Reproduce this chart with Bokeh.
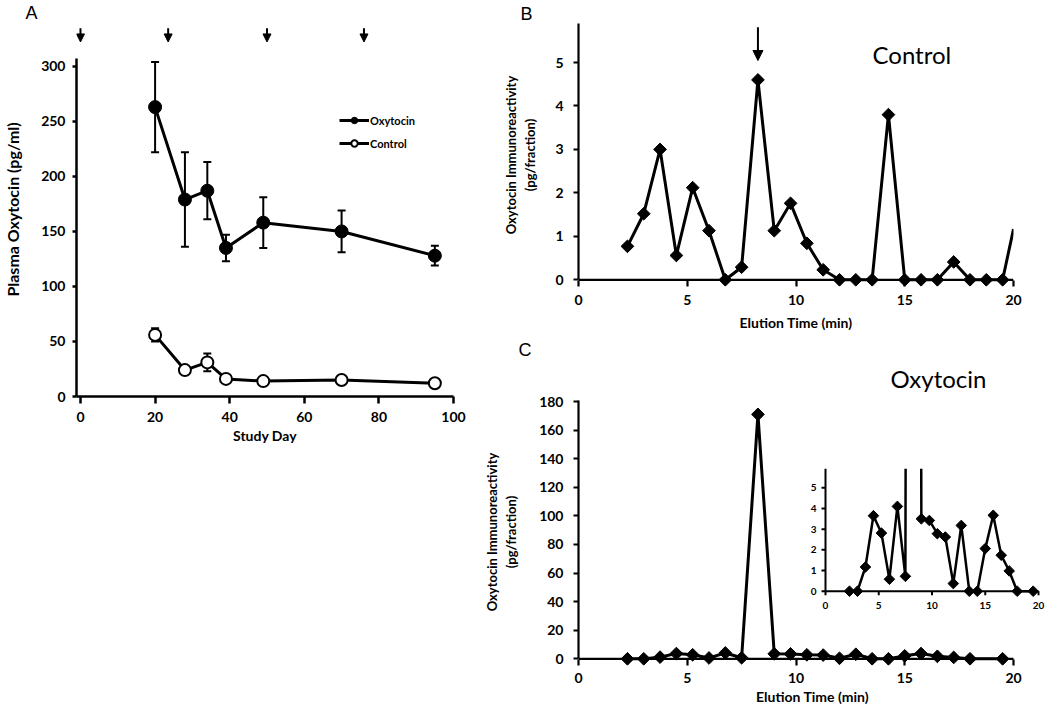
import math
from bokeh.plotting import figure
from bokeh.layouts import row, column
from bokeh.models import (ColumnDataSource, FixedTicker, Range1d, Legend, LegendItem,
                          Label, Title, Whisker, TeeHead, Arrow, NormalHead)
from bokeh.core.properties import value
from bokeh.embed import file_html
from bokeh.resources import INLINE

# ---------------- data ----------------
# Panel A: plasma oxytocin over the study
study_day = [20, 28, 34, 39, 49, 70, 95]
oxytocin_mean = [263, 179, 187, 135, 158, 150, 128]
oxytocin_sem = [41, 43, 26, 12, 23, 19, 9]
control_mean = [56, 24, 31, 16, 14, 15, 12]
control_sem = [6, 3, 8, 2, 2, 2, 2]
treatment_day = [0, 23.5, 50, 76]
a_x_ticks = [0, 20, 40, 60, 80, 100]
a_y_ticks = [0, 50, 100, 150, 200, 250, 300]

# Panel B: HPLC fractions, control
elution_b = [2.25, 3.0, 3.75, 4.5, 5.25, 6.0, 6.75, 7.5, 8.25, 9.0, 9.75, 10.5, 11.25,
             12.0, 12.75, 13.5, 14.25, 15.0, 15.75, 16.5, 17.25, 18.0, 18.75, 19.5, 20.25]
control_ir = [0.77, 1.52, 3.0, 0.56, 2.12, 1.13, 0.0, 0.29, 4.6, 1.13, 1.76, 0.84, 0.23,
              0.0, 0.0, 0.0, 3.8, 0.0, 0.0, 0.0, 0.41, 0.0, 0.0, 0.0, 1.75]
oxytocin_standard_time = [8.25]
b_x_ticks = [0, 5, 10, 15, 20]
b_y_ticks = [0, 1, 2, 3, 4, 5]

# Panel C: HPLC fractions, oxytocin
elution_c = [2.25, 3.0, 3.75, 4.5, 5.25, 6.0, 6.75, 7.5, 8.25, 9.0, 9.75, 10.5, 11.25,
             12.0, 12.75, 13.5, 14.25, 15.0, 15.75, 16.5, 17.25, 18.0, 19.5]
oxytocin_ir = [0.0, 0.0, 1.17, 3.65, 2.81, 0.58, 4.1, 0.72, 171, 3.5, 3.42, 2.78, 2.62,
               0.37, 3.18, 0.0, 0.0, 2.06, 3.67, 1.74, 0.98, 0.0, 0.0]
c_x_ticks = [0, 5, 10, 15, 20]
c_y_ticks = [0, 20, 40, 60, 80, 100, 120, 140, 160, 180]
inset_x_ticks = [0, 5, 10, 15, 20]
inset_y_ticks = [0, 1, 2, 3, 4, 5]

# ---------------- layout (image pixel calibration) ----------------
FONT = "Lato"
LETTER_FONT = "Liberation Sans"

A_ORIGIN, A_SIZE, A_FRAME = (0, 0), (470, 448), (75, 453, 21, 396)
A_XCAL, A_YCAL = (79, 0, 453, 100), (396, 0, 65, 300)
B_ORIGIN, B_SIZE, B_FRAME = (470, 0), (576, 340), (578, 1013, 23, 286)
B_XCAL, B_YCAL = (578, 0, 1013, 20), (279.3, 0, 62, 5)
C_ORIGIN, C_SIZE, C_FRAME = (470, 340), (576, 368), (578, 1046, 398, 665)
C_XCAL, C_YCAL = (578, 0, 1013, 20), (658.3, 0, 401, 180)
IN_XCAL, IN_YCAL = (825, 0, 1038, 20), (590.7, 0, 487.3, 5)
IN_TOP_PX = 468.3


def lin(px, cal):
    p0, v0, p1, v1 = cal
    return v0 + (px - p0) * (v1 - v0) / (p1 - p0)


def make_fig(origin, size, frame, xcal, ycal):
    ox, oy = origin
    w, h = size
    L, R, T, B = frame
    p = figure(width=w, height=h,
               x_range=Range1d(lin(L, xcal), lin(R, xcal)),
               y_range=Range1d(lin(B, ycal), lin(T, ycal)),
               output_backend="svg", toolbar_location=None,
               min_border_left=L - ox, min_border_right=ox + w - R,
               min_border_top=T - oy, min_border_bottom=oy + h - B)
    p.grid.visible = False
    p.outline_line_color = None
    p.background_fill_color = "white"
    p.border_fill_color = "white"
    try:
        p.frame_align = False
    except Exception:
        pass
    return p


def style_axis(ax, ticks, tick_out, standoff, size="14px", width=2.5, tick_in=0):
    ax.ticker = FixedTicker(ticks=ticks)
    ax.axis_line_width = width
    ax.axis_line_color = "black"
    ax.major_tick_line_width = width
    ax.major_tick_line_color = "black"
    ax.major_tick_in = tick_in
    ax.major_tick_out = tick_out
    ax.minor_tick_line_color = None
    ax.major_label_standoff = standoff
    ax.major_label_text_font = FONT
    ax.major_label_text_font_style = "bold"
    ax.major_label_text_font_size = size
    ax.major_label_text_color = "black"
    ax.axis_label_text_font = FONT
    ax.axis_label_text_font_style = "bold"
    ax.axis_label_text_color = "black"


def add_label(p, px, py, xcal, ycal, text, font, size, style="normal",
              align="left", baseline="middle"):
    p.add_layout(Label(x=lin(px, xcal), y=lin(py, ycal), text=text, text_font=font,
                       text_font_size=size, text_font_style=style, text_color="black",
                       text_align=align, text_baseline=baseline))


def add_title(p, side, text, align, offset, font, size, style="normal", standoff=0):
    t = Title(text=text, align=align, offset=offset, text_font=font,
              text_font_size=size, text_font_style=style, text_color="black", standoff=0)
    try:
        t.standoff = standoff
    except Exception:
        t.standoff = max(standoff, 0)
    p.add_layout(t, side)


def clip_max(xs, ys, limit, use_y=True):
    """Split a polyline into the pieces whose coordinate stays <= limit."""
    segs_x, segs_y, cx, cy = [], [], [], []
    for i, (x, y) in enumerate(zip(xs, ys)):
        c = y if use_y else x
        if i > 0:
            px, py = xs[i - 1], ys[i - 1]
            pc = py if use_y else px
            if (pc <= limit) != (c <= limit):
                t = (limit - pc) / (c - pc)
                cx.append(px + t * (x - px))
                cy.append(py + t * (y - py))
                if c > limit:
                    segs_x.append(cx)
                    segs_y.append(cy)
                    cx, cy = [], []
        if c <= limit:
            cx.append(x)
            cy.append(y)
    if cx:
        segs_x.append(cx)
        segs_y.append(cy)
    return segs_x, segs_y


def zero_baseline(p, ticks, width):
    # x axis line drawn through y = 0 (the frame extends a little below zero)
    p.segment(x0=[ticks[0]], y0=[0], x1=[ticks[-1]], y1=[0],
              line_width=width, line_color="black")


# ---------------- Panel A ----------------
pa = make_fig(A_ORIGIN, A_SIZE, A_FRAME, A_XCAL, A_YCAL)
style_axis(pa.xaxis[0], a_x_ticks, 7, 8)
pa.xaxis.bounds = (pa.x_range.start, a_x_ticks[-1])
pa.xaxis.axis_label = "Study Day"
pa.xaxis.axis_label_text_font_size = "14px"
pa.xaxis.axis_label_standoff = 2
style_axis(pa.yaxis[0], a_y_ticks, 4, 7)
pa.yaxis.bounds = (0, lin(57, A_YCAL))
pa.yaxis.axis_label = "Plasma Oxytocin (pg/ml)"
pa.yaxis.axis_label_text_font_size = "16px"
pa.yaxis.axis_label_standoff = 16

src_o = ColumnDataSource(dict(x=study_day, y=oxytocin_mean,
                              lo=[m - s for m, s in zip(oxytocin_mean, oxytocin_sem)],
                              hi=[m + s for m, s in zip(oxytocin_mean, oxytocin_sem)]))
src_c = ColumnDataSource(dict(x=study_day, y=control_mean,
                              lo=[m - s for m, s in zip(control_mean, control_sem)],
                              hi=[m + s for m, s in zip(control_mean, control_sem)]))
for src in (src_o, src_c):
    pa.add_layout(Whisker(source=src, base="x", upper="hi", lower="lo",
                          line_width=2, line_color="black",
                          upper_head=TeeHead(size=8, line_width=2, line_color="black"),
                          lower_head=TeeHead(size=8, line_width=2, line_color="black")))

ln_o = pa.line("x", "y", source=src_o, line_width=3, line_color="black")
sc_o = pa.scatter("x", "y", source=src_o, marker="circle", size=13,
                  fill_color="black", line_color="black")
ln_c = pa.line("x", "y", source=src_c, line_width=3, line_color="black")
sc_c = pa.scatter("x", "y", source=src_c, marker="circle", size=12,
                  fill_color="white", line_color="black", line_width=2)

arr_src = ColumnDataSource(dict(x=treatment_day,
                                y0=[lin(26.7, A_YCAL)] * len(treatment_day),
                                y1=[lin(40.5, A_YCAL)] * len(treatment_day)))
pa.add_layout(Arrow(source=arr_src, x_start="x", y_start="y0", x_end="x", y_end="y1",
                    line_width=2, line_color="black",
                    end=NormalHead(size=8, fill_color="black", line_color="black", line_width=1)))

legend = Legend(items=[LegendItem(label="Oxytocin", renderers=[ln_o, sc_o]),
                       LegendItem(label="Control", renderers=[ln_c, sc_c])],
                location=(338 - A_FRAME[0], A_FRAME[3] - (112 + 39)),
                glyph_width=30, glyph_height=16, label_height=16, spacing=7,
                label_standoff=1, padding=0, margin=0,
                border_line_color=None, background_fill_alpha=0,
                label_text_font=FONT, label_text_font_style="bold",
                label_text_font_size="11px", label_text_color="black")
pa.add_layout(legend)
add_title(pa, "above", "A", "left", 24 - A_FRAME[0], LETTER_FONT, "18px")

# ---------------- Panel B ----------------
pb = make_fig(B_ORIGIN, B_SIZE, B_FRAME, B_XCAL, B_YCAL)
style_axis(pb.xaxis[0], b_x_ticks, 0, 8, width=2.2, tick_in=6)
pb.xaxis.axis_line_color = None
zero_baseline(pb, b_x_ticks, 2.2)
style_axis(pb.yaxis[0], b_y_ticks, 5, 10, width=2.2)
pb.yaxis.bounds = (0, lin(B_FRAME[2], B_YCAL))
pb.yaxis.axis_label = "Oxytocin Immunoreactivity\n(pg/fraction)"
pb.yaxis.axis_label_text_font_size = "13px"
pb.yaxis.axis_label_standoff = 14

bx, by = clip_max(elution_b, control_ir, b_x_ticks[-1], use_y=False)
pb.multi_line(bx, by, line_width=3, line_color="black")
vis_b = [(x, y) for x, y in zip(elution_b, control_ir) if x <= b_x_ticks[-1]]
pb.scatter([v[0] for v in vis_b], [v[1] for v in vis_b], marker="square", angle=math.pi / 4,
           size=9, fill_color="black", line_color="black")
pb.add_layout(Arrow(x_start=oxytocin_standard_time[0], y_start=lin(26.7, B_YCAL),
                    x_end=oxytocin_standard_time[0], y_end=lin(60, B_YCAL),
                    line_width=2, line_color="black",
                    end=NormalHead(size=10, fill_color="black", line_color="black", line_width=1)))
add_label(pb, 872, 54, B_XCAL, B_YCAL, "Control", FONT, "24px")
add_title(pb, "above", "B", "left", 520 - B_FRAME[0], LETTER_FONT, "18px")
add_title(pb, "below", "Elution Time (min)", "center", 795.5 - (B_FRAME[0] + B_FRAME[1]) / 2,
          FONT, "14px", style="bold", standoff=8)

# ---------------- Panel C ----------------
pc = make_fig(C_ORIGIN, C_SIZE, C_FRAME, C_XCAL, C_YCAL)
style_axis(pc.xaxis[0], c_x_ticks, 0, 7, width=2.2, tick_in=6)
pc.xaxis.axis_line_color = None
pc.xaxis.bounds = (c_x_ticks[0], c_x_ticks[-1])
zero_baseline(pc, c_x_ticks, 2.2)
style_axis(pc.yaxis[0], c_y_ticks, 5, 10, width=2.2)
pc.yaxis.bounds = (0, lin(399.5, C_YCAL))
pc.yaxis.axis_label = "Oxytocin Immunoreactivity\n(pg/fraction)"
pc.yaxis.axis_label_text_font_size = "13px"
pc.yaxis.axis_label_standoff = 17

pc.line(elution_c, oxytocin_ir, line_width=3, line_color="black")
pc.scatter(elution_c, oxytocin_ir, marker="square", angle=math.pi / 4,
           size=9, fill_color="black", line_color="black")
add_title(pc, "above", "Oxytocin", "left", 890 - C_FRAME[0], FONT, "24px", standoff=12)
add_title(pc, "above", "C", "left", 518 - C_FRAME[0], LETTER_FONT, "18px", standoff=-8)
add_title(pc, "below", "Elution Time (min)", "center", 795.5 - (C_FRAME[0] + C_FRAME[1]) / 2,
          FONT, "14px", style="bold", standoff=0)

# ---- inset (same data, zoomed y axis) drawn on its own ranges ----
L, R, T, B = C_FRAME
pc.extra_x_ranges = {"ins": Range1d(lin(L, IN_XCAL), lin(R, IN_XCAL))}
pc.extra_y_ranges = {"ins": Range1d(lin(B, IN_YCAL), lin(T, IN_YCAL))}
ins_top = lin(IN_TOP_PX, IN_YCAL)
ux = (IN_XCAL[3] - IN_XCAL[1]) / (IN_XCAL[2] - IN_XCAL[0])   # data per px
uy = (IN_YCAL[3] - IN_YCAL[1]) / (IN_YCAL[0] - IN_YCAL[2])
kw = dict(x_range_name="ins", y_range_name="ins")

sx, sy = clip_max(elution_c, oxytocin_ir, ins_top, use_y=True)
pc.multi_line(sx, sy, line_width=2.5, line_color="black", **kw)
vis_c = [(x, y) for x, y in zip(elution_c, oxytocin_ir) if y <= ins_top]
pc.scatter([v[0] for v in vis_c], [v[1] for v in vis_c], marker="square", angle=math.pi / 4,
           size=7.5, fill_color="black", line_color="black", **kw)
pc.segment(x0=[inset_x_ticks[0], inset_x_ticks[0]], y0=[0, 0],
           x1=[inset_x_ticks[-1], inset_x_ticks[0]], y1=[0, ins_top],
           line_width=2, line_color="black", **kw)
pc.segment(x0=[0] * len(inset_y_ticks), y0=inset_y_ticks,
           x1=[-4 * ux] * len(inset_y_ticks), y1=inset_y_ticks,
           line_width=2, line_color="black", **kw)
pc.segment(x0=inset_x_ticks, y0=[0] * len(inset_x_ticks),
           x1=inset_x_ticks, y1=[-4 * uy] * len(inset_x_ticks),
           line_width=2, line_color="black", **kw)
pc.text(x=[-9 * ux] * len(inset_y_ticks), y=inset_y_ticks, text=[str(t) for t in inset_y_ticks],
        text_font=value(FONT), text_font_style="bold", text_font_size="10px",
        text_align="right", text_baseline="middle", text_color="black", **kw)
pc.text(x=inset_x_ticks, y=[-11 * uy] * len(inset_x_ticks), text=[str(t) for t in inset_x_ticks],
        text_font=value(FONT), text_font_style="bold", text_font_size="10px",
        text_align="center", text_baseline="top", text_color="black", **kw)

layout = row(pa, column(pb, pc))
open("out.html", "w").write(file_html(layout, INLINE))
